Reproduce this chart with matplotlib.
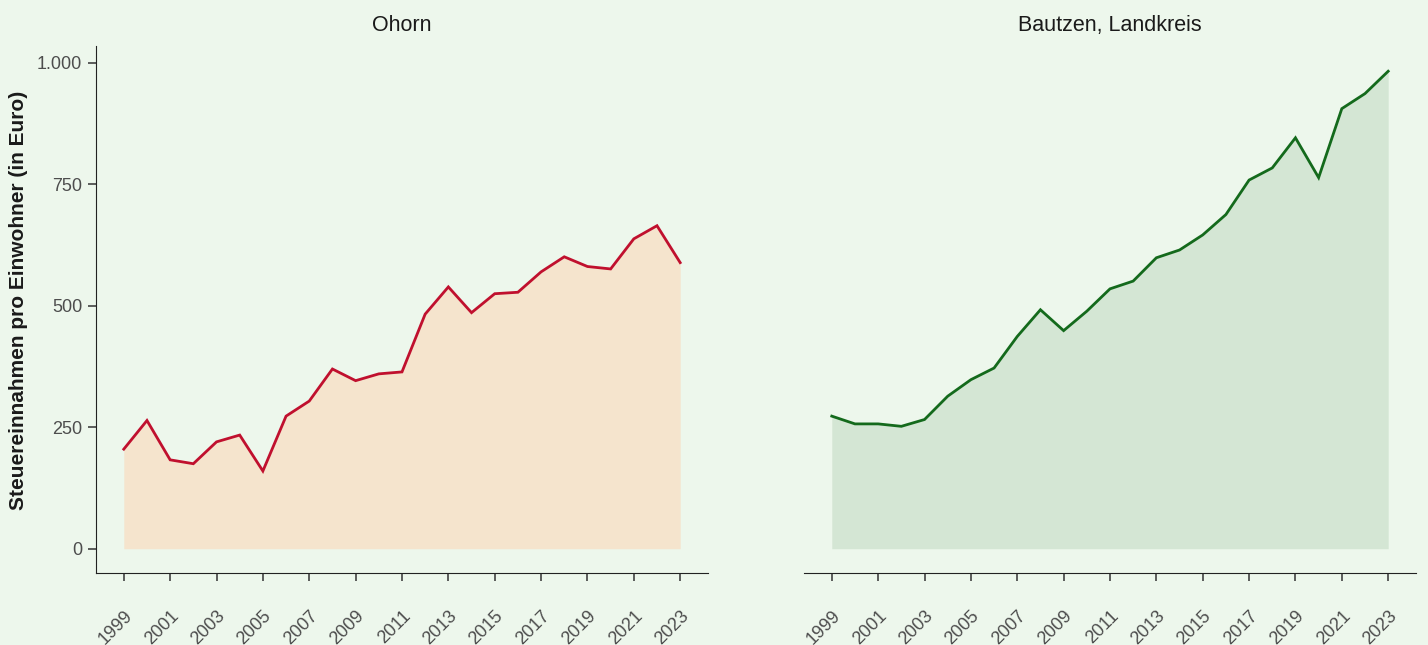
import matplotlib
matplotlib.use("Agg")
import matplotlib.pyplot as plt
import matplotlib.transforms as mtransforms
from matplotlib.ticker import FuncFormatter

plt.rcParams['font.family'] = ['Liberation Sans', 'DejaVu Sans']

years = list(range(1999, 2024))

# Steuereinnahmen pro Einwohner (Euro)
ohorn = [205, 264, 183, 175, 220, 234, 160, 273, 304, 370, 346, 360, 364,
         483, 539, 486, 525, 528, 570, 601, 581, 576, 638, 665, 589]
bautzen = [273, 257, 257, 252, 266, 314, 348, 372, 437, 492, 449, 489, 535,
           551, 599, 615, 646, 688, 759, 784, 846, 764, 906, 937, 983]

titles = ["Ohorn", "Bautzen, Landkreis"]
ylabel = "Steuereinnahmen pro Einwohner (in Euro)"
yticks = [0, 250, 500, 750, 1000]
xticks = list(range(1999, 2024, 2))

bg = "#EDF7EC"
line_cols = ["#C0102E", "#146A1C"]
fill_cols = ["#F5E4CD", "#D4E6D4"]

fig = plt.figure(figsize=(14.28, 6.45), dpi=100, facecolor=bg)
ax1 = fig.add_axes([0.0672, 0.1116, 0.4286, 0.8171])
ax2 = fig.add_axes([0.5630, 0.1116, 0.4286, 0.8171])


def de_fmt(v, pos):
    return "{:,.0f}".format(v).replace(",", ".")


shift = mtransforms.ScaledTranslation(2 / 100, 0, fig.dpi_scale_trans)

for i, (ax, vals) in enumerate(zip([ax1, ax2], [ohorn, bautzen])):
    ax.set_facecolor(bg)
    ax.fill_between(years, 0, vals, color=fill_cols[i], lw=0)
    ax.plot(years, vals, color=line_cols[i], lw=2.0, solid_joinstyle="miter")
    ax.set_xlim(1997.8, 2024.2)
    ax.set_ylim(-50, 1035)
    ax.set_xticks(xticks)
    ax.set_xticklabels([str(x) for x in xticks], rotation=45, ha="right",
                       va="top", rotation_mode="anchor")
    for lab in ax.get_xticklabels():
        lab.set_transform(lab.get_transform() + shift)
    ax.set_yticks(yticks)
    ax.yaxis.set_major_formatter(FuncFormatter(de_fmt))
    ax.tick_params(axis="both", colors="#333333", labelcolor="#4D4D4D",
                   labelsize=13, length=5.5, width=1.1)
    ax.tick_params(axis="x", pad=19)
    ax.tick_params(axis="y", pad=4.5)
    for s in ["top", "right"]:
        ax.spines[s].set_visible(False)
    ax.spines["bottom"].set_color("#222222")
    ax.spines["left"].set_color("#222222")
    ax.set_title(titles[i], fontsize=15.5, color="#1A1A1A", pad=10.5)

ax2.spines["left"].set_visible(False)
ax2.tick_params(axis="y", left=False, labelleft=False)

fig.text(19 / 1428, 0.535, ylabel, rotation=90, ha="center", va="center",
         fontsize=15, fontweight="bold", color="#1A1A1A")

fig.savefig("out.png", dpi=100, facecolor=bg)
